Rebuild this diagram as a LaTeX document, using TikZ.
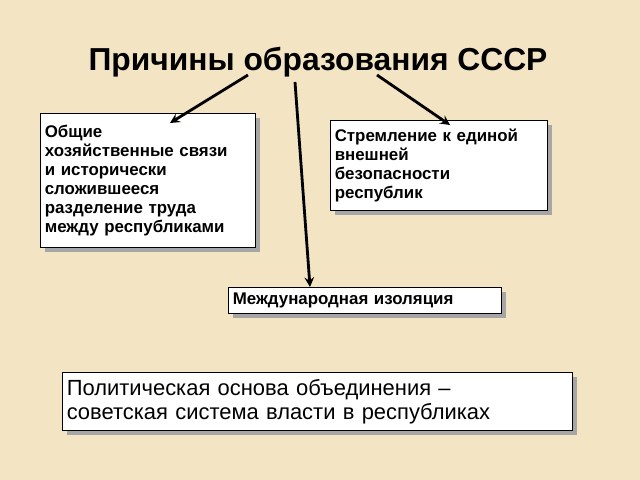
\documentclass[tikz,border=0pt]{standalone}
\usepackage{fontspec}
\setmainfont{Liberation Sans}
\usetikzlibrary{arrows,shadows}
\definecolor{parch}{RGB}{243,228,196}
\begin{document}
\begin{tikzpicture}[>=stealth, x=0.025cm, y=-0.025cm]
		\tikzstyle{reason} = [draw, thick, fill=white, align=left, inner sep=3pt, anchor=north west, font=\bfseries\fontsize{12}{13.6}\selectfont, drop shadow={shadow xshift=3pt, shadow yshift=-3pt, fill=gray!70, opacity=1}]
		\tikzstyle{link} = [->, line width=2pt]

		\fill[parch] (0,0) rectangle (640,480);
		\useasboundingbox (0,0) rectangle (640,480);

		\node (title) at (318,62) {\bfseries\fontsize{22.6}{26}\selectfont Причины образования СССР};
		\coordinate (t1) at (248,75);
		\coordinate (t2) at (295,82);
		\coordinate (t3) at (377,75);

		\node[reason, text width=5.375cm-6pt, minimum height=3.35cm] (econ) at (40,113) {Общие\\хозяйственные связи\\и исторически\\сложившееся\\разделение труда\\между республиками};
		\node[reason, text width=5.425cm-6pt, minimum height=2.25cm] (safe) at (330,120) {Стремление к единой\\внешней\\безопасности\\республик};
		\node[reason, text width=6.825cm-6pt, minimum height=0.65cm] (isol) at (228,287) {Международная изоляция};
		\node[reason, text width=12.75cm-6pt, minimum height=1.45cm, font=\fontsize{15.6}{17}\selectfont] (polit) at (62,372) {Политическая основа объединения –\\советская система власти в республиках};

		\draw[link] (t1) -- (170,123);
		\draw[link] (t2) -- (isol.north -| 310,0);
		\draw[link] (t3) -- (450,125);
\end{tikzpicture}
\end{document}
